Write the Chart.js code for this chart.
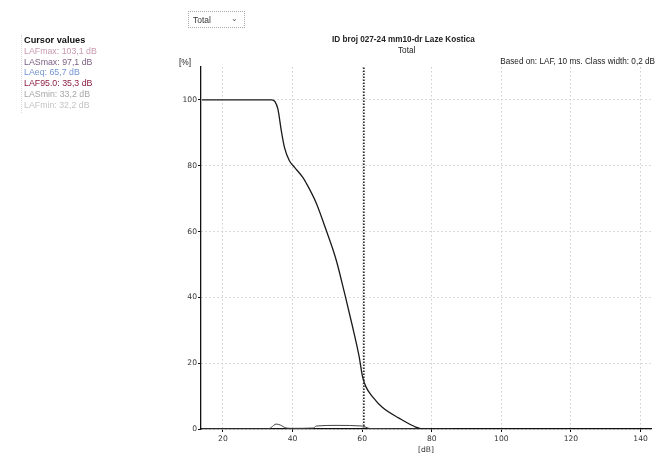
<!DOCTYPE html>
<html>
<head>
<meta charset="utf-8">
<script src="https://cdn.jsdelivr.net/npm/chart.js@4/dist/chart.umd.min.js"></script>
<style>
    body { margin: 0; background: #fff; font-family: "Liberation Sans", Arial, sans-serif; }
    #wrap { position: relative; width: 660px; height: 457px; overflow: hidden; }
    #chart { position: absolute; left: 0; top: 0; }
    .txt { position: absolute; white-space: nowrap; color: #222; }
    #panel { position: absolute; left: 21px; top: 35px; padding-left: 2px; border-left: 1px dotted #d8d8d8; height: 78px; font-size: 8.8px; line-height: 10.8px; }
    #panel b { color: #111; font-size: 9.2px; }
    #drop { position: absolute; left: 188px; top: 11px; width: 57px; height: 17px; border: 1px dotted #aaa; font-size: 8.5px; box-sizing: border-box; }
    #drop span { position: absolute; left: 4px; top: 3px; color: #333; }
    #drop i { position: absolute; right: 6px; top: 2px; font-style: normal; font-size: 8px; color: #555; }
</style>
</head>
<body>
<div id="wrap">
    <canvas id="chart" width="660" height="457"></canvas>
    <div id="drop"><span>Total</span><i>&#8964;</i></div>
    <div id="panel">
        <b>Cursor values</b><br>
        <span style="color:#c89aae">LAFmax: 103,1 dB</span><br>
        <span style="color:#7c5f83">LASmax: 97,1 dB</span><br>
        <span style="color:#7394d0">LAeq: 65,7 dB</span><br>
        <span style="color:#8c1f42">LAF95.0: 35,3 dB</span><br>
        <span style="color:#a6a6a6">LASmin: 33,2 dB</span><br>
        <span style="color:#c4c4c4">LAFmin: 32,2 dB</span>
    </div>
    <div class="txt" style="left:332px; top:35px; font-size:8.2px; font-weight:bold;">ID broj 027-24 mm10-dr Laze Kostica</div>
    <div class="txt" style="left:398px; top:46px; font-size:8.2px;">Total</div>
    <div class="txt" style="left:179px; top:57px; font-size:8.4px;">[%]</div>
    <div class="txt" style="right:5px; top:57px; font-size:8.2px;">Based on: LAF, 10 ms. Class width: 0,2 dB</div>
</div>
<script>
// level classes [dB] and cumulative percentage (exceedance curve)
const cumLevels = [14, 34, 35, 35.8, 36.8, 37.7, 39.1, 40.6, 42.9, 44, 46.8, 49.6, 52.5, 54.9, 57.2, 59.1, 60.1, 61.1, 62.9, 65.7, 70.6, 75.4, 78, 86];
const cumPercent = [100, 100, 99.4, 97.2, 90.5, 85.5, 81.5, 79.5, 76.5, 74.6, 68.7, 60.6, 51.5, 41.5, 31.3, 22.2, 16, 12.8, 9.9, 6.7, 3.3, 0.6, 0, 0];

// distribution per class [%]
const distLevels = [14, 33, 33.9, 35.3, 36.5, 38.2, 40, 46, 46.8, 52.5, 60.1, 61.4, 62.5, 86];
const distPercent = [0, 0, 0.5, 1.5, 1.2, 0.3, 0.2, 0.3, 0.9, 1.1, 0.9, 0.4, 0.1, 0];

// cursor position [dB]
const cursorLevel = 60.5;

const xTicks = [20, 40, 60, 80, 100, 120, 140];
const yTicks = [0, 20, 40, 60, 80, 100];

function toPoints(xs, ys) {
    return xs.map((x, i) => ({ x: x, y: ys[i] }));
}

const tickFont = { family: 'DejaVu Sans', size: 7.6 };

const ctx = document.getElementById('chart').getContext('2d');
const chart = new Chart(ctx, {
    type: 'line',
    data: {
        datasets: [{
            label: "Cumulative",
            data: toPoints(cumLevels, cumPercent),
            borderColor: '#1a1a1a',
            borderWidth: 1.3,
            cubicInterpolationMode: 'monotone',
            pointRadius: 0
        }, {
            label: "Distribution",
            data: toPoints(distLevels, distPercent),
            borderColor: '#444',
            borderWidth: 1,
            cubicInterpolationMode: 'monotone',
            pointRadius: 0
        }, {
            label: "Cursor",
            data: [{ x: cursorLevel, y: 0 }, { x: cursorLevel, y: 110 }],
            borderColor: '#111',
            borderWidth: 1.5,
            borderDash: [1.5, 1.5],
            pointRadius: 0
        }]
    },
    options: {
        responsive: false,
        animation: false,
        layout: { padding: { left: 161, top: 67, right: 9, bottom: 2 } },
        plugins: { legend: { display: false }, tooltip: { enabled: false } },
        scales: {
            x: {
                type: 'linear',
                min: 13.7,
                max: 143,
                afterBuildTicks: (s) => { s.ticks = xTicks.map(v => ({ value: v })); },
                afterFit: (s) => { s.height = 26; },
                border: { color: '#111', width: 1.3, dash: [1.5, 2.5] },
                grid: { color: '#cfcfcf', tickColor: '#111', tickLength: 3, tickBorderDash: [] },
                ticks: { color: '#333', font: tickFont, padding: 2, maxRotation: 0 },
                title: { display: true, text: '[dB]', color: '#333', font: tickFont, padding: 0 }
            },
            y: {
                min: 0,
                max: 110,
                afterBuildTicks: (s) => { s.ticks = yTicks.map(v => ({ value: v })); },
                afterFit: (s) => { s.width = 40; },
                border: { color: '#111', width: 1.3, dash: [1.5, 2.5] },
                grid: { color: '#cfcfcf', tickColor: '#111', tickLength: 3, tickBorderDash: [] },
                ticks: { color: '#333', font: tickFont, padding: 1 }
            }
        }
    }
});
</script>
</body>
</html>
